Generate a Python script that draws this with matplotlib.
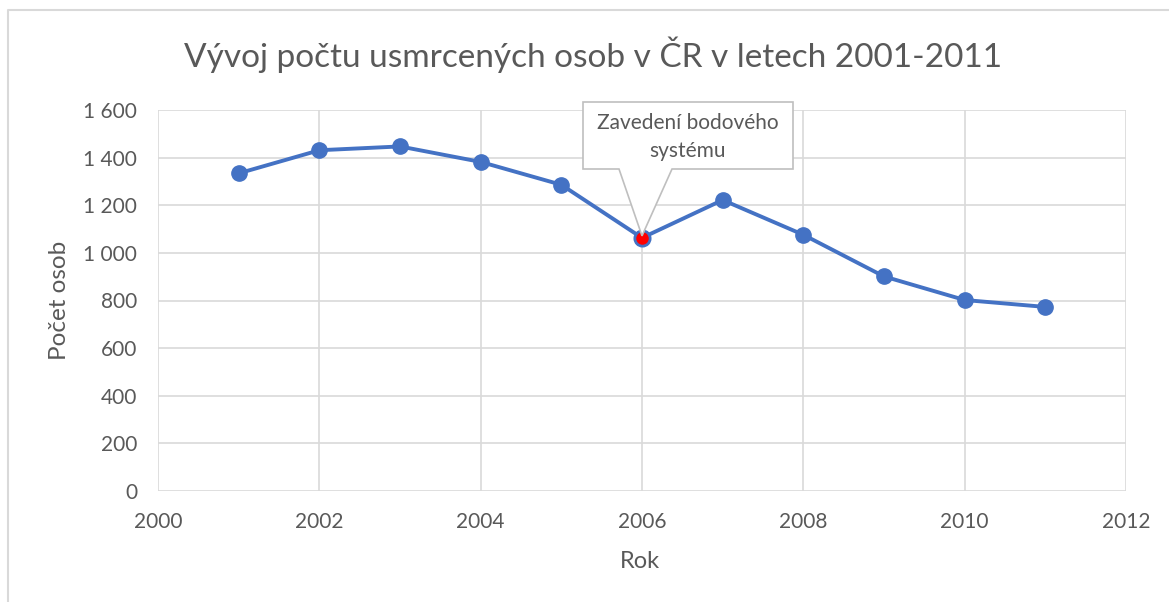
import matplotlib
matplotlib.use("Agg")
import matplotlib.pyplot as plt
from matplotlib.lines import Line2D
from matplotlib.patches import Polygon
from matplotlib.ticker import FuncFormatter, MultipleLocator

years = [2001, 2002, 2003, 2004, 2005, 2006, 2007, 2008, 2009, 2010, 2011]
deaths = [1334, 1431, 1447, 1382, 1286, 1063, 1222, 1076, 901, 802, 773]
highlight_year = 2006
highlight_value = 1063
annotation_text = "Zavedení bodového\nsystému"
title = "Vývoj počtu usmrcených osob v ČR v letech 2001-2011"
xlabel = "Rok"
ylabel = "Počet osob"

plt.rcParams['font.family'] = ['Lato', 'DejaVu Sans']
grey_text = '#595959'

W, H = 1169, 602
fig = plt.figure(figsize=(W / 100, H / 100), dpi=100)
# chart-area border (only top and left visible in the reference crop)
fig.lines.append(Line2D([8 / W, 8 / W, 1.0], [0.0, 1 - 10 / H, 1 - 10 / H],
                        transform=fig.transFigure, color='#d9d9d9', linewidth=1.5))

ax = fig.add_axes([158 / W, 111 / H, 968 / W, 381 / H])

blue = '#4472C4'
ax.plot(years, deaths, color=blue, linewidth=2.8, marker='o', markersize=11,
        markerfacecolor=blue, markeredgecolor=blue, zorder=3)
ax.plot([highlight_year], [highlight_value], marker='o', markersize=11,
        markerfacecolor='#ff0000', markeredgecolor=blue, markeredgewidth=2, zorder=4)

ax.set_xlim(2000, 2012)
ax.set_ylim(0, 1600)
ax.xaxis.set_major_locator(MultipleLocator(2))
ax.yaxis.set_major_locator(MultipleLocator(200))
ax.yaxis.set_major_formatter(FuncFormatter(lambda v, p: f"{int(v):,}".replace(",", " ")))
ax.grid(True, color='#d9d9d9', linewidth=1.2)
ax.set_axisbelow(True)
for s in ax.spines.values():
    s.set_visible(False)
ax.tick_params(length=0, labelsize=15, labelcolor=grey_text)
ax.tick_params(axis='x', pad=15)
ax.tick_params(axis='y', pad=15)

fig.text(593 / W, 1 - 55 / H, title, fontsize=24, color=grey_text, ha='center', va='center')
fig.text(640 / W, 1 - 561 / H, xlabel, fontsize=17, color=grey_text, ha='center', va='center')
fig.text(59 / W, 1 - 300 / H, ylabel, fontsize=17.5, color=grey_text, ha='center', va='center',
         rotation=90)

# callout box (figure pixels, origin bottom-left) pointing at the highlighted point
fig.canvas.draw()
tip = ax.transData.transform((highlight_year, highlight_value))
bl, br, bt, bb = 583, 793, H - 102, H - 169
pl, pr = 619, 672
callout = Polygon([(bl, bt), (br, bt), (br, bb), (pr, bb), (tip[0], tip[1] + 2), (pl, bb), (bl, bb)],
                  closed=True, transform=None, facecolor='white', edgecolor='#bfbfbf',
                  linewidth=1.2, zorder=5)
fig.patches.append(callout)
fig.text(688 / W, 1 - 137 / H, annotation_text, fontsize=15, color=grey_text,
         ha='center', va='center', linespacing=1.45, zorder=6)

fig.savefig('out.png', dpi=100)
